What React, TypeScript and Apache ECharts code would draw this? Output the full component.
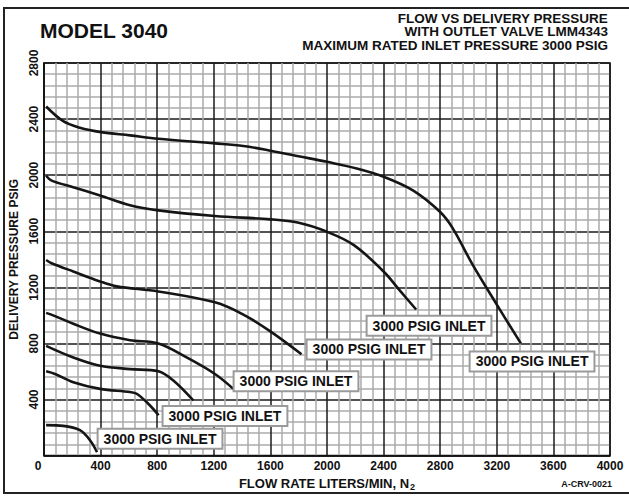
import React, { useEffect, useRef } from "react";
import * as echarts from "echarts";

const xTicks = [0, 400, 800, 1200, 1600, 2000, 2400, 2800, 3200, 3600, 4000];
const yTicks = [0, 400, 800, 1200, 1600, 2000, 2400, 2800];

const curve1: [number, number][] = [
  [15, 2490], [136, 2385], [254, 2338], [403, 2307], [608, 2284], [808, 2260],
  [1208, 2227], [1409, 2208], [1609, 2173], [1809, 2133], [2000, 2095], [2210, 2048],
  [2400, 1989], [2610, 1890], [2800, 1737], [2890, 1619], [3030, 1360], [3200, 1077], [3370, 800],
];
const curve2: [number, number][] = [
  [15, 1996], [54, 1961], [207, 1914], [396, 1855], [608, 1785], [808, 1749],
  [1208, 1709], [1600, 1685], [1800, 1660], [2000, 1596], [2190, 1501], [2400, 1313],
  [2520, 1171], [2630, 1042],
];
const curve3: [number, number][] = [
  [15, 1395], [54, 1372], [207, 1313], [396, 1242], [514, 1207], [808, 1171],
  [1208, 1093], [1409, 1006], [1597, 888], [1820, 723],
];
const curve4: [number, number][] = [
  [15, 1018], [78, 995], [207, 940], [396, 870], [608, 823], [808, 799],
  [1008, 700], [1208, 582], [1338, 476],
];
const curve5: [number, number][] = [
  [15, 783], [207, 700], [396, 641], [608, 617], [808, 601], [914, 535], [1055, 393],
];
const curve6: [number, number][] = [
  [15, 601], [78, 582], [207, 523], [396, 476], [608, 453], [655, 441], [737, 370], [810, 288],
];
const curve7: [number, number][] = [
  [15, 217], [136, 212], [254, 181], [325, 110], [375, 25],
];

const curves = [curve1, curve2, curve3, curve4, curve5, curve6, curve7];
const labelText = "3000 PSIG INLET";
// label anchor (data coordinates) for each curve; null = no label
const labelAnchors: ([number, number] | null)[] = [
  [3449, 672], [2721, 926], [2297, 757], [1781, 530], null, [1279, 283], [820, 120],
];
const titleLines = [
  "FLOW VS DELIVERY PRESSURE",
  "WITH OUTLET VALVE LMM4343",
  "MAXIMUM RATED INLET PRESSURE 3000 PSIG",
];

const FONT = "Arial, 'Liberation Sans', Helvetica, sans-serif";

export default function App() {
  const ref = useRef<HTMLDivElement>(null);
  useEffect(() => {
    if (!ref.current) return;
    const chart = echarts.init(ref.current, undefined, { renderer: "svg" });
    const series = curves.map((c, i) => {
      const anchor = labelAnchors[i];
      return {
        type: "line",
        data: c,
        smooth: 0.35,
        showSymbol: false,
        symbol: "none",
        lineStyle: { color: "#151515", width: 2.6 },
        z: 3,
        markPoint: anchor
          ? {
              symbol: "rect",
              symbolSize: 0,
              z: 10,
              data: [{ coord: anchor }],
              label: {
                show: true,
                position: "inside",
                formatter: labelText,
                color: "#111",
                fontFamily: FONT,
                fontWeight: "bold",
                fontSize: 14,
                backgroundColor: "#fff",
                borderColor: "#9a9a9a",
                borderWidth: 2,
                padding: [3, 5, 1, 5],
              },
            }
          : undefined,
      };
    });
    chart.setOption({
      animation: false,
      textStyle: { fontFamily: FONT },
      grid: { left: 44, right: 19, top: 63, bottom: 37, show: true, borderColor: "#111", borderWidth: 1.5, backgroundColor: "#fff" },
      xAxis: {
        type: "value",
        min: xTicks[0],
        max: xTicks[xTicks.length - 1],
        interval: 400,
        axisLine: { show: true, lineStyle: { color: "#111", width: 1.5 } },
        axisTick: { show: false },
        splitLine: { show: true, lineStyle: { color: "#1a1a1a", width: 1.5 } },
        minorTick: { show: false, splitNumber: 5 },
        minorSplitLine: { show: true, lineStyle: { color: "#ababab", width: 1.5 } },
        axisLabel: {
          margin: 4,
          fontSize: 12,
          fontWeight: "bold",
          color: "#111",
          formatter: (v: number) => (v === 0 ? "{z|0}" : String(v)),
          rich: { z: { fontSize: 12, fontWeight: "bold", color: "#111", padding: [0, 12, 0, 0] } },
        },
        name: "FLOW RATE LITERS/MIN, N{sub|2}",
        nameLocation: "middle",
        nameGap: 16,
        nameTextStyle: {
          fontSize: 13,
          fontWeight: "bold",
          color: "#111",
          rich: { sub: { fontSize: 9, fontWeight: "bold", color: "#111", padding: [7, 0, 0, 1] } },
        },
      },
      yAxis: {
        type: "value",
        min: yTicks[0],
        max: yTicks[yTicks.length - 1],
        interval: 400,
        axisLine: { show: true, lineStyle: { color: "#111", width: 1.5 } },
        axisTick: { show: false },
        splitLine: { show: true, lineStyle: { color: "#1a1a1a", width: 1.5 } },
        minorTick: { show: false, splitNumber: 5 },
        minorSplitLine: { show: true, lineStyle: { color: "#ababab", width: 1.5 } },
        axisLabel: {
          rotate: 90,
          margin: 4,
          fontSize: 12,
          fontWeight: "bold",
          color: "#111",
          formatter: (v: number) => (v === 0 ? "" : String(v)),
        },
        name: "DELIVERY PRESSURE PSIG",
        nameLocation: "middle",
        nameRotate: 90,
        nameGap: 21,
        nameTextStyle: { fontSize: 12, fontWeight: "bold", color: "#111" },
      },
      graphic: [
        {
          type: "rect",
          shape: { x: 4, y: 8, width: 700, height: 485 },
          style: { fill: "none", stroke: "#222", lineWidth: 2 },
          silent: true,
        },
        {
          type: "text",
          left: 40,
          top: 20,
          style: { text: "MODEL 3040", font: `bold 21px ${FONT}`, fill: "#111" },
        },
        ...titleLines.map((t, i) => ({
          type: "text",
          right: 21,
          top: 11 + i * 13.5,
          style: { text: t, font: `bold 13.5px ${FONT}`, fill: "#111" },
        })),
        {
          type: "text",
          right: 17,
          top: 479,
          style: { text: "A-CRV-0021", font: `bold 9px ${FONT}`, fill: "#111" },
        },
      ],
      series,
    });
    return () => chart.dispose();
  }, []);
  return (
    <div
      ref={ref}
      style={{ position: "fixed", left: 0, top: 0, width: 629, height: 496, background: "#fff" }}
    />
  );
}
